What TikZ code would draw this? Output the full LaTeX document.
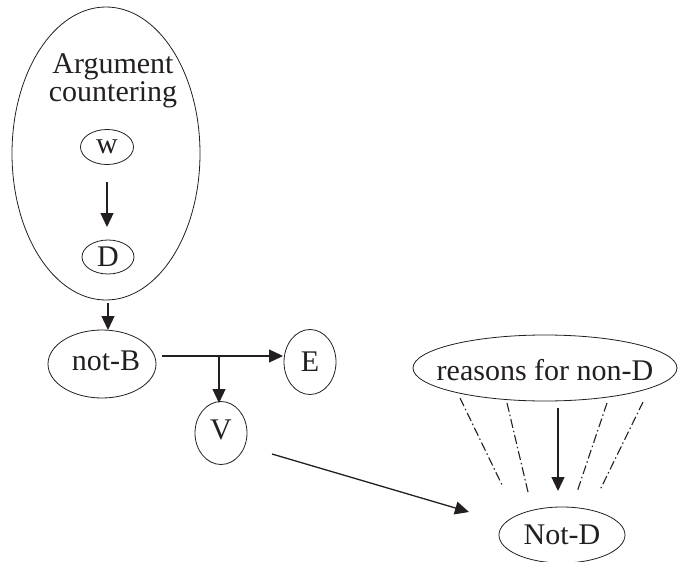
\documentclass[tikz,border=0pt]{standalone}
\usepackage{fontspec}
\setmainfont{Liberation Serif}
\usetikzlibrary{shapes.geometric,arrows.meta}
\definecolor{ink}{HTML}{231F20}
\tikzset{
  ell/.style={draw=ink, ellipse, line width=0.8pt, inner sep=0pt},
  arr/.style={draw=ink, line width=1.3pt, -{Triangle[length=14pt,width=13pt]}},
  dd/.style={draw=ink, line width=1.1pt, dash pattern=on 9pt off 3pt on 1.5pt off 3pt},
  lbl/.style={text=ink, font=\fontsize{30}{21}\selectfont, align=center, inner sep=0pt}
}
\begin{document}
\begin{tikzpicture}[x=1pt,y=-1pt]
\useasboundingbox (0,0) rectangle (678,562);
% container
\node[ell, minimum width=188pt, minimum height=293pt] (arg) at (106,153.5) {};
\node[lbl] (argtext) at (113,81) {Argument\\countering};
\node[ell, minimum width=53pt, minimum height=35pt, label={[lbl]center:w}] (w) at (107,147) {};
\node[ell, minimum width=52pt, minimum height=34pt, label={[lbl]center:D}] (D) at (108,257) {};
\node[ell, minimum width=108pt, minimum height=68pt, label={[lbl,xshift=4pt,yshift=3pt]center:not-B}] (notB) at (102,364) {};
\node[ell, minimum width=52pt, minimum height=65pt, label={[lbl]center:E}] (E) at (310,362) {};
\node[ell, minimum width=52pt, minimum height=63pt, label={[lbl,yshift=3pt]center:V}] (V) at (221,433) {};
\node[ell, minimum width=264pt, minimum height=66pt, label={[lbl,yshift=-2pt]center:reasons for non-D}] (reasons) at (545,368) {};
\node[ell, minimum width=126pt, minimum height=56pt, label={[lbl]center:Not-D}] (notD) at (562,535) {};
% arrows
\coordinate (wD1) at (107,182);
\coordinate (wD2) at (107,227);
\draw[arr] (wD1) -- (wD2);
\coordinate (aB1) at (108,303);
\coordinate (aB2) at (108,330);
\draw[arr] (aB1) -- (aB2);
\coordinate (bE1) at (162,356);
\coordinate (bE2) at (283,356);
\coordinate (br) at (219,356);
\coordinate (bV) at (219,403);
\draw[arr] (bE1) -- (bE2);
\draw[arr] (br) -- (bV);
\coordinate (vn1) at (272,454);
\coordinate (vn2) at (469,512);
\draw[arr] (vn1) -- (vn2);
\coordinate (rn1) at (558,408);
\coordinate (rn2) at (558,491);
\draw[arr] (rn1) -- (rn2);
% dash-dot lines
\coordinate (d1a) at (460,398); \coordinate (d1b) at (503,487);
\coordinate (d2a) at (507,403); \coordinate (d2b) at (528,492);
\coordinate (d3a) at (607,403); \coordinate (d3b) at (577,492);
\coordinate (d4a) at (643,402); \coordinate (d4b) at (600,490);
\draw[dd] (d1a) -- (d1b);
\draw[dd] (d2a) -- (d2b);
\draw[dd] (d3a) -- (d3b);
\draw[dd] (d4a) -- (d4b);
\end{tikzpicture}
\end{document}
